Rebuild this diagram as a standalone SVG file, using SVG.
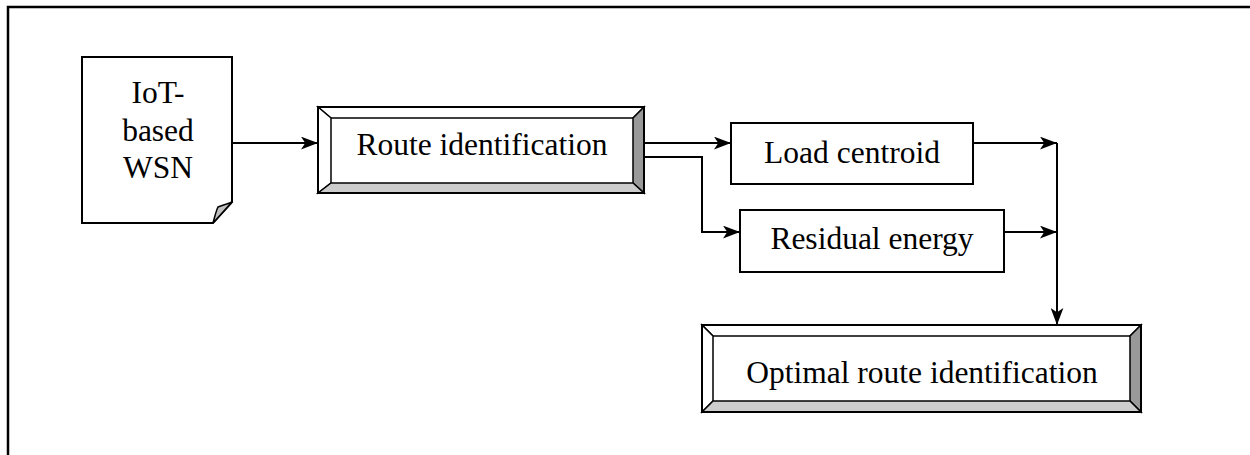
<svg xmlns="http://www.w3.org/2000/svg" width="1250" height="455" viewBox="0 0 1250 455">
<style>
.t{font-family:"Liberation Serif","Times New Roman",serif;font-size:31.5px;fill:#000;text-anchor:middle}
.ln{fill:none;stroke:#000;stroke-width:2}
.box{fill:#fff;stroke:#000;stroke-width:2}
.bv{stroke:#000;stroke-width:1.5;stroke-linejoin:miter}
</style>
<defs>
<marker id="ah" viewBox="0 0 16 12" refX="16" refY="6" markerWidth="17" markerHeight="13" markerUnits="userSpaceOnUse" orient="auto">
<path d="M0,0 L16,6 L0,12 L4,6 Z" fill="#000"/>
</marker>
</defs>
<rect width="1250" height="455" fill="#fff"/>
<path d="M8,455 V7 H1250" fill="none" stroke="#000" stroke-width="2.5"/>
<g id="iot">
<path class="box" d="M82,57 H232 V202 L213,223 H82 Z"/>
<path d="M213,223 C215,216 216,211 218,207 C223,205 228,204 232,202 Z" fill="#c0c0c0" stroke="#000" stroke-width="1.5"/>
<text class="t" x="158" y="103">IoT-</text>
<text class="t" x="158" y="141">based</text>
<text class="t" x="158" y="178">WSN</text>
</g>
<g id="route">
<rect x="318" y="107" width="326" height="86" fill="#fff"/>
<polygon class="bv" points="318,107 644,107 633,118 331,118" fill="#fff"/>
<polygon class="bv" points="318,107 331,118 331,183 318,193" fill="#fff"/>
<polygon class="bv" points="644,107 644,193 633,183 633,118" fill="#999"/>
<polygon class="bv" points="318,193 331,183 633,183 644,193" fill="#ccc"/>
<rect x="318" y="107" width="326" height="86" fill="none" stroke="#000" stroke-width="2"/>
<text class="t" x="482" y="155">Route identification</text>
</g>
<g id="load">
<rect class="box" x="731" y="123" width="242" height="61"/>
<text class="t" x="852" y="163">Load centroid</text>
</g>
<g id="residual">
<rect class="box" x="740" y="210" width="264" height="62"/>
<text class="t" x="872" y="249">Residual energy</text>
</g>
<g id="optimal">
<rect x="702" y="325" width="439" height="87" fill="#fff"/>
<polygon class="bv" points="702,325 1141,325 1130,336 713,336" fill="#fff"/>
<polygon class="bv" points="702,325 713,336 713,401 702,412" fill="#fff"/>
<polygon class="bv" points="1141,325 1141,412 1130,401 1130,336" fill="#999"/>
<polygon class="bv" points="702,412 713,401 1130,401 1141,412" fill="#ccc"/>
<rect x="702" y="325" width="439" height="87" fill="none" stroke="#000" stroke-width="2"/>
<text class="t" x="922" y="383">Optimal route identification</text>
</g>
<g id="connectors">
<path class="ln" d="M232,143 H318" marker-end="url(#ah)"/>
<path class="ln" d="M644,143 H731" marker-end="url(#ah)"/>
<path class="ln" d="M644,157 H702 V232 H740" marker-end="url(#ah)"/>
<path class="ln" d="M973,143 H1057" marker-end="url(#ah)"/>
<path class="ln" d="M1004,232 H1057" marker-end="url(#ah)"/>
<path class="ln" d="M1057,143 V325" marker-end="url(#ah)"/>
</g>
</svg>
